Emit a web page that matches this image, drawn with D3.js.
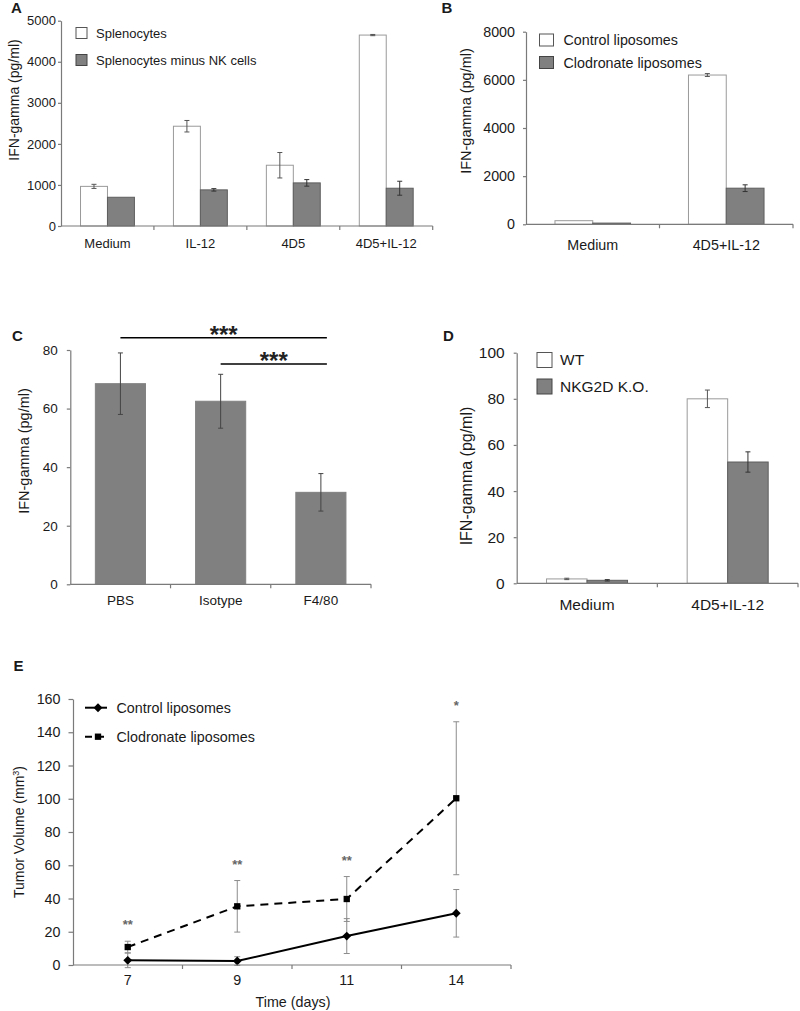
<!DOCTYPE html>
<html><head><meta charset="utf-8">
<script src="https://cdn.jsdelivr.net/npm/d3@7"></script>
<style>
body{margin:0;background:#fff;}
svg{display:block;font-family:"Liberation Sans",Arial,sans-serif;}
</style></head><body>
<svg id="c" width="800" height="1011"></svg>
<script>
// ---------- DATA ----------
const catsA = ["Medium", "IL-12", "4D5", "4D5+IL-12"];
const splenocytes = [965, 2430, 1480, 4650];
const errSplenocytes = [50, 140, 310, 15];
const splenocytesMinusNK = [700, 880, 1050, 920];
const errSplenocytesMinusNK = [0, 30, 80, 170];
const ticksA = [0, 1000, 2000, 3000, 4000, 5000];

const catsB = ["Medium", "4D5+IL-12"];
const controlLipoB = [150, 6200];
const errControlLipoB = [0, 60];
const clodronateLipoB = [50, 1500];
const errClodronateLipoB = [0, 140];
const ticksB = [0, 2000, 4000, 6000, 8000];

const catsC = ["PBS", "Isotype", "F4/80"];
const valuesC = [68.5, 62.5, 31.4];
const errC = [10.5, 9.2, 6.4];
const ticksC = [0, 20, 40, 60, 80];
const sigC = [{from: "PBS", to: "F4/80", level: 84.2, label: "***"},
              {from: "Isotype", to: "F4/80", level: 75.2, label: "***"}];

const catsD = ["Medium", "4D5+IL-12"];
const wtD = [1.9, 80];
const errWtD = [0.3, 3.8];
const koD = [1.3, 52.6];
const errKoD = [0.3, 4.4];
const ticksD = [0, 20, 40, 60, 80, 100];

const daysE = ["7", "9", "11", "14"];
const controlE = [2.8, 2.4, 17.4, 31.1];
const errControlE = [4.4, 2.6, 10.5, 14.3];
const clodronateE = [10.8, 35.3, 39.7, 100.3];
const errClodronateE = [3.5, 15.5, 13.5, 46];
const starsE = ["**", "**", "**", "*"];
const ticksE = [0, 20, 40, 60, 80, 100, 120, 140, 160];

// ---------- HELPERS ----------
const svg = d3.select("#c");
const AXIS = "#7a7a7a", TEXT = "#1a1a1a", GRAYFILL = "#808080", GRAYSTROKE = "#5e5e5e",
      WHITESTROKE = "#9a9a9a";

function panelLabel(t, x, y) {
  svg.append("text").attr("x", x).attr("y", y).attr("font-weight", "bold")
    .attr("font-size", 15).attr("fill", TEXT).text(t);
}

function yTitle(t, cx, cy, fs) {
  svg.append("text").attr("transform", `translate(${cx},${cy}) rotate(-90)`)
    .attr("text-anchor", "middle").attr("dy", "0.35em").attr("font-size", fs)
    .attr("fill", TEXT).text(t);
}

function styleAxis(g, fs) {
  g.select(".domain").attr("stroke", AXIS).attr("stroke-width", 1.2);
  g.selectAll(".tick line").attr("stroke", AXIS).attr("stroke-width", 1.2);
  g.selectAll(".tick text").attr("fill", TEXT).attr("font-size", fs);
  g.attr("font-family", null);
}

function drawAxes(cfg, x, y) {
  const gy = svg.append("g").attr("transform", `translate(${cfg.x0},0)`)
    .call(d3.axisLeft(y).tickValues(cfg.ticks).tickFormat(d3.format("d"))
      .tickSize(cfg.ytick).tickSizeOuter(0).tickPadding(cfg.ypad));
  styleAxis(gy, cfg.fs);
  const gx = svg.append("g").attr("transform", `translate(0,${cfg.y0})`)
    .call(d3.axisBottom(x).tickSize(0).tickSizeOuter(0).tickPadding(cfg.xpad));
  styleAxis(gx, cfg.fs);
  gx.select(".domain").attr("d", `M${cfg.x0},0H${cfg.x1}`);
  gx.selectAll(".tick text").attr("dy", "0.71em");
  // boundary ticks
  svg.append("g").selectAll("line").data(x.domain()).join("line")
    .attr("x1", d => x(d) + x.bandwidth()).attr("x2", d => x(d) + x.bandwidth())
    .attr("y1", cfg.y0).attr("y2", cfg.y0 + 4)
    .attr("stroke", AXIS).attr("stroke-width", 1.2);
}

function errBar(g, cx, y, v, e, color, cap) {
  if (e <= 0) return;
  const t = y(v + e), b = y(v - e);
  g.append("line").attr("x1", cx).attr("x2", cx).attr("y1", t).attr("y2", b)
    .attr("stroke", color).attr("stroke-width", 1);
  [t, b].forEach(yy => g.append("line").attr("x1", cx - cap).attr("x2", cx + cap)
    .attr("y1", yy).attr("y2", yy).attr("stroke", color).attr("stroke-width", 1));
}

function barPanel(cfg) {
  const x = d3.scaleBand().domain(cfg.cats).range([cfg.x0, cfg.x1]).padding(0);
  const y = d3.scaleLinear().domain([0, cfg.ymax]).range([cfg.y0, cfg.yTop]);
  const bw = x.bandwidth() * cfg.barFrac;
  const n = cfg.series.length;
  const g = svg.append("g");
  cfg.series.forEach((s, i) => {
    cfg.cats.forEach((c, j) => {
      const cx = x(c) + x.bandwidth() / 2;
      const bx = cx - n * bw / 2 + i * bw;
      g.append("rect").attr("x", bx).attr("y", y(s.vals[j]))
        .attr("width", bw).attr("height", cfg.y0 - y(s.vals[j]))
        .attr("fill", s.fill).attr("stroke", s.stroke).attr("stroke-width", 1);
    });
  });
  cfg.series.forEach((s, i) => {
    cfg.cats.forEach((c, j) => {
      const cx = x(c) + x.bandwidth() / 2 - n * bw / 2 + (i + 0.5) * bw;
      errBar(g, cx, y, s.vals[j], s.errs[j], s.errColor, 2.5);
    });
  });
  drawAxes(cfg, x, y);
  if (cfg.legend) {
    const L = cfg.legend;
    cfg.series.forEach((s, i) => {
      const ly = L.y + i * L.dy;
      svg.append("rect").attr("x", L.x).attr("y", ly - L.h / 2).attr("width", L.w).attr("height", L.h)
        .attr("fill", s.fill).attr("stroke", s.legendStroke || s.stroke).attr("stroke-width", 1);
      svg.append("text").attr("x", L.x + L.w + L.gap).attr("y", ly).attr("dy", "0.35em")
        .attr("font-size", cfg.lfs).attr("fill", TEXT).text(s.name);
    });
  }
  return {x, y};
}

// ---------- PANEL A ----------
panelLabel("A", 11, 12.5);
barPanel({
  cats: catsA, x0: 61, x1: 432.7, yTop: 20.7, y0: 226, ymax: 5000, ticks: ticksA,
  barFrac: 0.29, fs: 13, lfs: 13, ytick: 3, ypad: 2, xpad: 13,
  series: [
    {name: "Splenocytes", vals: splenocytes, errs: errSplenocytes, fill: "#fff", stroke: WHITESTROKE, legendStroke: "#555", errColor: "#555"},
    {name: "Splenocytes minus NK cells", vals: splenocytesMinusNK, errs: errSplenocytesMinusNK, fill: GRAYFILL, stroke: GRAYSTROKE, legendStroke: "#444", errColor: "#333"}
  ],
  legend: {x: 76, y: 33, dy: 27, w: 11, h: 11, gap: 9}
});
yTitle("IFN-gamma (pg/ml)", 14, 100, 14);

// ---------- PANEL B ----------
panelLabel("B", 441.5, 12.7);
barPanel({
  cats: catsB, x0: 526, x1: 793, yTop: 31.7, y0: 224.3, ymax: 8000, ticks: ticksB,
  barFrac: 0.283, fs: 14.3, lfs: 14.3, ytick: 3, ypad: 8, xpad: 16,
  series: [
    {name: "Control liposomes", vals: controlLipoB, errs: errControlLipoB, fill: "#fff", stroke: WHITESTROKE, legendStroke: "#555", errColor: "#555"},
    {name: "Clodronate liposomes", vals: clodronateLipoB, errs: errClodronateLipoB, fill: GRAYFILL, stroke: GRAYSTROKE, legendStroke: "#444", errColor: "#333"}
  ],
  legend: {x: 539.5, y: 40, dy: 22.5, w: 14, h: 12, gap: 10}
});
yTitle("IFN-gamma (pg/ml)", 466, 111, 14.5);

// ---------- PANEL C ----------
panelLabel("C", 12, 340.5);
const sc = barPanel({
  cats: catsC, x0: 70.3, x1: 371, yTop: 350, y0: 584.3, ymax: 80, ticks: ticksC,
  barFrac: 0.5, fs: 13.5, ytick: 3.5, ypad: 9, xpad: 11,
  series: [
    {name: "", vals: valuesC, errs: errC, fill: GRAYFILL, stroke: GRAYFILL, errColor: "#444"}
  ]
});
yTitle("IFN-gamma (pg/ml)", 24, 451, 14.5);
sigC.forEach(s => {
  const x1 = sc.x(s.from) + sc.x.bandwidth() / 2;
  const x2 = sc.x(s.to) + sc.x.bandwidth() / 2 + 6;
  const yy = sc.y(s.level);
  svg.append("line").attr("x1", x1).attr("x2", x2).attr("y1", yy).attr("y2", yy)
    .attr("stroke", "#000").attr("stroke-width", 1.6);
  svg.append("text").attr("x", (x1 + x2) / 2).attr("y", yy + 5).attr("text-anchor", "middle")
    .attr("font-size", 24).attr("font-weight", "bold").attr("fill", "#222").text(s.label);
});

// ---------- PANEL D ----------
panelLabel("D", 443, 341);
barPanel({
  cats: catsD, x0: 516.7, x1: 798, yTop: 352.7, y0: 583.3, ymax: 100, ticks: ticksD,
  barFrac: 0.288, fs: 15.5, lfs: 15.5, ytick: 3, ypad: 9, xpad: 15.5,
  series: [
    {name: "WT", vals: wtD, errs: errWtD, fill: "#fff", stroke: WHITESTROKE, legendStroke: "#555", errColor: "#555"},
    {name: "NKG2D K.O.", vals: koD, errs: errKoD, fill: GRAYFILL, stroke: GRAYSTROKE, legendStroke: "#444", errColor: "#333"}
  ],
  legend: {x: 537, y: 360, dy: 26.5, w: 15, h: 15, gap: 8}
});
yTitle("IFN-gamma (pg/ml)", 466, 476, 16);

// ---------- PANEL E ----------
panelLabel("E", 13.5, 670.5);
(function () {
  const cfg = {x0: 73, x1: 511, yTop: 699, y0: 965, fs: 14.3, ytick: 4.5, ypad: 8, xpad: 10, ticks: ticksE};
  const x = d3.scaleBand().domain(daysE).range([cfg.x0, cfg.x1]).padding(0);
  const y = d3.scaleLinear().domain([0, 160]).range([cfg.y0, cfg.yTop]);
  const cx = d => x(d) + x.bandwidth() / 2;
  const g = svg.append("g");
  daysE.forEach((d, i) => {
    errBar(g, cx(d), y, clodronateE[i], errClodronateE[i], "#8c8c8c", 3);
    errBar(g, cx(d), y, controlE[i], errControlE[i], "#8c8c8c", 3);
  });
  const line = d3.line().x((v, i) => cx(daysE[i])).y(v => y(v));
  g.append("path").attr("d", line(clodronateE)).attr("fill", "none").attr("stroke", "#000")
    .attr("stroke-width", 2).attr("stroke-dasharray", "8,6");
  g.append("path").attr("d", line(controlE)).attr("fill", "none").attr("stroke", "#000")
    .attr("stroke-width", 2);
  const diamond = d3.symbol().type(d3.symbolDiamond2).size(50);
  const square = d3.symbol().type(d3.symbolSquare).size(40);
  daysE.forEach((d, i) => {
    g.append("path").attr("d", square()).attr("transform", `translate(${cx(d)},${y(clodronateE[i])})`).attr("fill", "#000");
    g.append("path").attr("d", diamond()).attr("transform", `translate(${cx(d)},${y(controlE[i])})`).attr("fill", "#000");
    g.append("text").attr("x", cx(d)).attr("y", y(clodronateE[i] + errClodronateE[i]) - 12)
      .attr("text-anchor", "middle").attr("font-size", 13).attr("font-weight", "bold")
      .attr("fill", "#666").text(starsE[i]);
  });
  drawAxes(cfg, x, y);
  const leg = [{name: "Control liposomes", dash: null, sym: diamond, y: 707.7},
               {name: "Clodronate liposomes", dash: "7,5", sym: square, y: 736.7}];
  leg.forEach(l => {
    svg.append("line").attr("x1", 85).attr("x2", 107).attr("y1", l.y).attr("y2", l.y)
      .attr("stroke", "#000").attr("stroke-width", 2).attr("stroke-dasharray", l.dash);
    svg.append("path").attr("d", l.sym()).attr("transform", `translate(98,${l.y})`).attr("fill", "#000");
    svg.append("text").attr("x", 116.5).attr("y", l.y).attr("dy", "0.35em").attr("font-size", 14.3)
      .attr("fill", TEXT).text(l.name);
  });
  svg.append("text").attr("x", (cfg.x0 + cfg.x1) / 2 + 1).attr("y", 1002).attr("dy", "0.35em")
    .attr("text-anchor", "middle").attr("font-size", 14.3).attr("fill", TEXT).text("Time (days)");
  const t = svg.append("text").attr("transform", "translate(19,832) rotate(-90)")
    .attr("text-anchor", "middle").attr("dy", "0.35em").attr("font-size", 14).attr("fill", TEXT);
  t.append("tspan").text("Tumor Volume (mm");
  t.append("tspan").attr("font-size", 9).attr("dy", "-0.6em").text("3");
  t.append("tspan").attr("font-size", 14).attr("dy", "0.4em").text(")");
})();
</script>
</body></html>
